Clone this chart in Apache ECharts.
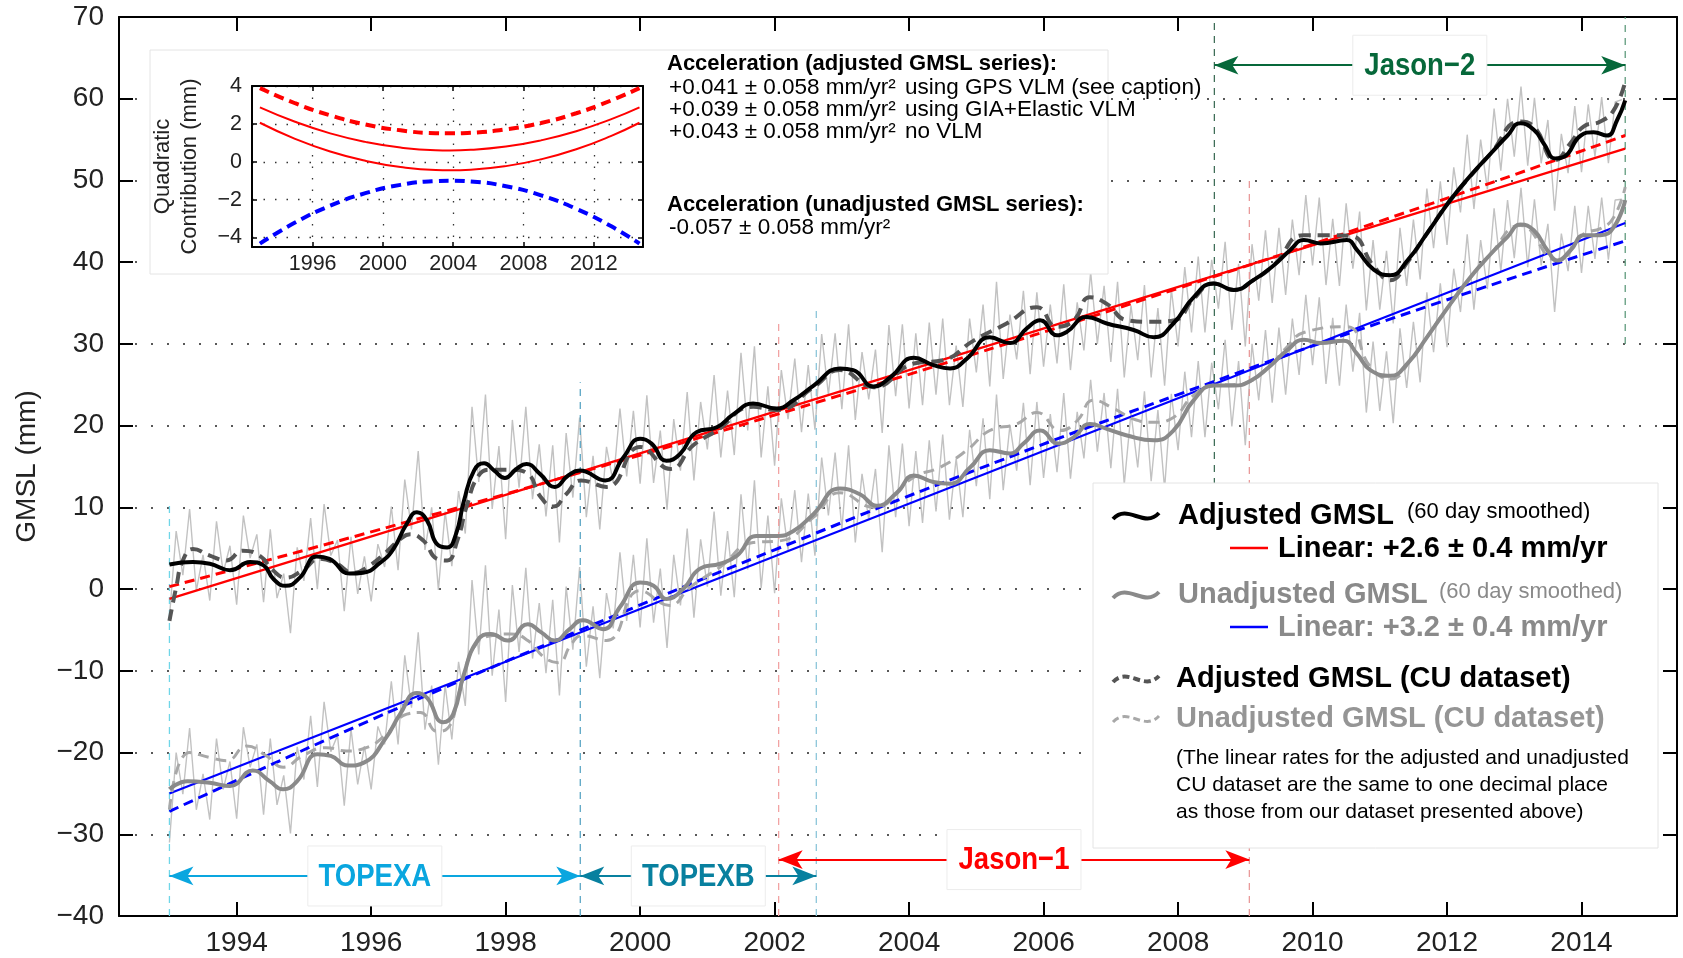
<!DOCTYPE html>
<html><head><meta charset="utf-8">
<script src="https://cdn.jsdelivr.net/npm/echarts@6/dist/echarts.min.js"></script>
<style>html,body{margin:0;padding:0;background:#fff}#c{width:1683px;height:958px}</style>
</head><body><div id="c"></div>
<script>
// ---------------- DATA ----------------
const xTicks = [1994, 1996, 1998, 2000, 2002, 2004, 2006, 2008, 2010, 2012, 2014];
const insetXTicks = [1996, 2000, 2004, 2008, 2012];
const insetYTicks = [-4, -2, 0, 2, 4];

// raw (~monthly) GMSL, sampled from 1993.0 every 0.1 yr
const noisyStart = 1993.0, noisyStep = 0.1;
const adjNoisy = [
 -3.5, 7.1, 1.7, 9.8, -0.2, 4.2, -1.4, 8.3, 2.0, 5.3,
 -1.9, 9.0, 3.8, 6.7, -1.6, 7.3, -1.1, 1.9, -5.4, 5.1,
 1.0, 8.7, 0.0, 10.4, 4.1, 6.0, -2.7, 6.4, -0.6, 4.0,
 -1.5, 5.5, 2.7, 10.1, 2.3, 13.4, 7.3, 16.9, 4.8, 10.0,
 -0.1, 9.5, 2.8, 12.0, 6.8, 22.3, 13.1, 23.8, 9.8, 17.5,
 6.1, 20.7, 12.4, 22.3, 11.0, 17.7, 8.9, 17.6, 5.7, 19.1,
 11.2, 21.0, 8.8, 16.3, 7.3, 17.4, 13.0, 22.1, 13.8, 21.8,
 12.9, 23.7, 13.0, 19.4, 9.7, 20.8, 14.5, 24.1, 13.3, 22.9,
 17.1, 26.2, 16.1, 24.3, 16.4, 28.9, 19.4, 29.7, 16.1, 24.8,
 15.1, 26.8, 20.8, 28.2, 19.2, 27.4, 19.5, 31.2, 23.8, 31.3,
 22.0, 32.4, 20.7, 29.0, 23.2, 29.3, 19.1, 32.3, 23.6, 32.4,
 22.1, 31.3, 22.5, 32.6, 23.8, 33.1, 22.5, 29.8, 22.3, 33.1,
 26.5, 34.8, 24.8, 37.6, 25.7, 33.6, 28.1, 36.5, 26.3, 36.3,
 27.2, 34.8, 27.6, 37.3, 26.8, 35.1, 29.2, 38.8, 30.0, 37.1,
 27.8, 37.6, 25.9, 34.7, 28.0, 37.2, 25.9, 34.4, 24.9, 36.7,
 29.7, 39.4, 31.4, 40.7, 31.4, 40.3, 34.3, 42.5, 31.7, 39.8,
 29.7, 42.2, 35.3, 43.9, 35.0, 44.2, 36.0, 45.2, 38.4, 48.2,
 39.6, 47.9, 37.2, 45.3, 37.1, 47.2, 39.2, 46.2, 34.1, 42.7,
 34.2, 41.4, 32.5, 44.2, 37.1, 45.2, 37.9, 49.0, 41.7, 49.9,
 42.1, 51.6, 46.1, 55.6, 46.5, 55.0, 48.9, 58.8, 51.2, 60.0,
 52.9, 61.5, 51.8, 60.1, 52.1, 57.4, 46.3, 55.7, 50.9, 59.1,
 51.0, 59.3, 52.9, 60.2, 52.1, 59.6, 59.9
];
const unadjNoisy = [
 -31.0, -20.0, -25.1, -17.0, -27.0, -22.6, -28.2, -18.3, -24.5, -21.1,
 -28.1, -16.9, -21.8, -19.0, -27.6, -18.3, -26.4, -22.8, -29.9, -19.3,
 -23.3, -15.5, -24.2, -13.8, -19.9, -17.9, -26.5, -17.1, -23.9, -19.2,
 -24.5, -16.8, -19.0, -11.3, -19.0, -8.1, -14.5, -5.3, -17.2, -11.8,
 -21.5, -11.7, -18.4, -8.9, -14.3, 1.1, -8.0, 2.9, -10.6, -2.5,
 -13.8, 0.5, -7.7, 2.6, -8.5, -1.7, -10.3, -1.3, -13.0, 0.3,
 -7.4, 2.7, -9.5, -2.1, -10.9, -0.5, -4.8, 4.5, -3.9, 4.2,
 -4.7, 6.2, -4.1, 2.5, -7.2, 4.2, -2.0, 7.4, -3.5, 6.1,
 0.3, 9.5, -0.8, 7.1, -1.0, 11.6, 2.4, 13.3, 0.1, 9.0,
 -0.5, 11.1, 4.8, 12.1, 3.3, 11.7, 4.1, 16.1, 9.0, 16.7,
 7.3, 17.6, 5.7, 14.1, 8.5, 14.7, 4.5, 17.6, 8.8, 17.8,
 7.7, 16.9, 8.1, 18.2, 9.5, 18.9, 8.5, 16.0, 8.8, 19.5,
 12.6, 20.9, 11.0, 23.8, 12.1, 20.1, 14.5, 22.8, 12.7, 22.9,
 13.6, 21.4, 14.3, 24.0, 13.5, 21.7, 16.0, 25.6, 16.8, 24.0,
 14.8, 24.5, 12.8, 21.6, 14.9, 24.2, 13.2, 21.9, 12.3, 23.9,
 17.0, 26.6, 18.6, 27.9, 18.6, 27.7, 22.0, 30.5, 19.9, 27.9,
 17.6, 30.0, 23.1, 31.7, 22.8, 32.0, 23.8, 33.1, 26.2, 36.0,
 27.4, 35.7, 25.1, 33.2, 24.9, 34.8, 26.6, 33.8, 21.6, 30.3,
 21.8, 29.1, 20.3, 31.9, 24.6, 32.7, 25.3, 36.3, 29.0, 37.4,
 29.6, 39.2, 33.9, 43.4, 34.2, 42.7, 36.7, 46.6, 38.9, 47.6,
 40.5, 49.1, 39.4, 47.7, 39.6, 44.7, 33.9, 43.5, 38.9, 46.9,
 38.7, 46.9, 40.4, 47.9, 40.3, 47.6, 47.7
];

// 60-day smoothed series [year, mm]
const adjSmooth = [[1993.0,3.0],[1993.35,3.3],[1993.6,3.1],[1993.9,2.3],[1994.2,3.3],[1994.4,2.9],[1994.55,1.2],[1994.73,0.4],[1994.94,1.4],[1995.19,4.0],[1995.38,3.7],[1995.68,1.9],[1995.88,2.0],[1996.13,3.2],[1996.33,4.9],[1996.53,8.0],[1996.68,9.4],[1996.83,8.4],[1996.98,5.5],[1997.13,5.1],[1997.26,6.7],[1997.38,10.8],[1997.53,14.5],[1997.68,15.4],[1997.83,14.5],[1997.99,13.6],[1998.16,14.7],[1998.31,15.3],[1998.51,14.1],[1998.73,12.5],[1998.93,13.9],[1999.1,14.5],[1999.48,13.3],[1999.75,16.1],[2000.0,18.4],[2000.17,17.8],[2000.39,15.7],[2000.59,16.5],[2000.84,19.2],[2001.14,19.8],[2001.39,21.4],[2001.68,22.7],[2002.03,22.1],[2002.28,23.1],[2002.58,24.9],[2002.97,27.0],[2003.17,26.8],[2003.47,24.8],[2003.72,25.9],[2004.07,28.3],[2004.36,27.4],[2004.61,27.0],[2004.86,28.2],[2005.2,30.8],[2005.5,30.1],[2005.75,31.9],[2005.95,32.9],[2006.2,31.05],[2006.35,31.5],[2006.64,33.3],[2006.94,32.5],[2007.34,31.7],[2007.64,30.8],[2007.93,32.5],[2008.23,35.7],[2008.53,37.4],[2008.83,36.6],[2009.12,37.8],[2009.42,39.6],[2009.67,41.5],[2009.87,42.7],[2010.12,42.3],[2010.51,42.7],[2010.66,41.5],[2010.91,39.1],[2011.16,38.4],[2011.41,40.2],[2011.7,43.5],[2012.05,47.6],[2012.35,50.6],[2012.65,53.3],[2012.9,55.5],[2013.09,57.0],[2013.29,56.2],[2013.44,54.5],[2013.61,52.7],[2013.74,52.9],[2013.99,55.5],[2014.18,55.9],[2014.38,55.5],[2014.53,57.4],[2014.65,59.8]];
const adjCU = [[1993.0,-3.9],[1993.1,0.2],[1993.2,3.5],[1993.35,4.9],[1993.6,4.1],[1993.85,3.5],[1994.09,4.7],[1994.34,4.1],[1994.54,2.3],[1994.73,1.4],[1994.98,2.3],[1995.23,3.7],[1995.47,3.2],[1995.73,2.0],[1995.98,2.9],[1996.22,4.5],[1996.43,6.1],[1996.58,6.7],[1996.78,5.9],[1996.98,3.7],[1997.13,3.5],[1997.28,5.9],[1997.43,10.4],[1997.6,13.9],[1997.78,14.6],[1998.08,14.6],[1998.33,14.1],[1998.51,11.4],[1998.71,10.1],[1998.9,11.6],[1999.12,13.3],[1999.5,12.5],[2000.0,17.4],[2000.45,14.7],[2000.79,17.6],[2001.14,19.4],[2001.68,22.3],[2002.03,21.9],[2002.58,24.7],[2002.97,26.8],[2003.47,24.7],[2004.07,27.6],[2004.5,28.0],[2004.96,30.4],[2005.45,32.5],[2005.9,34.5],[2006.2,32.1],[2006.45,32.9],[2006.69,35.7],[2006.94,34.9],[2007.24,32.9],[2007.64,32.7],[2007.95,32.9],[2008.23,35.5],[2008.53,37.4],[2008.83,36.6],[2009.12,37.8],[2009.42,39.6],[2009.87,43.3],[2010.2,43.3],[2010.57,43.2],[2010.91,39.5],[2011.16,37.8],[2011.41,40.0],[2011.7,43.5],[2012.05,47.6],[2012.65,53.3],[2013.09,57.2],[2013.3,56.5],[2013.61,52.5],[2013.84,54.6],[2014.03,56.6],[2014.28,57.2],[2014.48,58.6],[2014.65,62.1]];
const unadjSmooth = [[1993.0,-24.5],[1993.27,-23.5],[1993.6,-23.7],[1993.9,-24.1],[1994.24,-22.2],[1994.49,-23.5],[1994.69,-24.5],[1994.9,-23.5],[1995.2,-20.2],[1995.4,-20.4],[1995.65,-21.6],[1995.9,-21.2],[1996.22,-18.2],[1996.43,-15.3],[1996.68,-12.7],[1996.83,-13.3],[1997.07,-16.3],[1997.22,-15.3],[1997.38,-10.4],[1997.58,-6.3],[1997.78,-5.5],[1998.03,-6.3],[1998.33,-4.3],[1998.53,-5.3],[1998.73,-6.3],[1998.95,-4.9],[1999.15,-3.8],[1999.45,-4.9],[1999.7,-2.2],[2000.0,0.8],[2000.2,0.4],[2000.39,-1.2],[2000.64,0.0],[2000.89,2.5],[2001.19,3.1],[2001.44,4.1],[2001.73,6.5],[2002.03,6.5],[2002.28,7.1],[2002.58,9.2],[2002.97,12.3],[2003.27,11.6],[2003.52,10.2],[2003.82,11.8],[2004.07,13.9],[2004.36,13.1],[2004.61,12.9],[2004.91,14.9],[2005.2,17.0],[2005.5,16.6],[2005.7,17.8],[2005.95,19.4],[2006.22,17.8],[2006.45,18.6],[2006.69,20.2],[2006.94,19.6],[2007.24,18.8],[2007.64,18.2],[2007.93,19.4],[2008.23,23.1],[2008.53,24.9],[2008.83,24.9],[2009.08,25.5],[2009.37,27.3],[2009.62,29.2],[2009.87,30.5],[2010.12,30.1],[2010.46,30.4],[2010.66,28.8],[2010.86,26.8],[2011.16,26.1],[2011.41,27.6],[2011.7,30.8],[2012.05,34.9],[2012.35,38.2],[2012.65,41.0],[2012.9,43.1],[2013.09,44.6],[2013.29,43.9],[2013.49,41.5],[2013.64,40.2],[2013.84,41.5],[2014.04,43.3],[2014.28,43.3],[2014.48,44.3],[2014.65,47.6]];
const unadjCU = [[1993.0,-27.0],[1993.3,-20.0],[1993.6,-20.6],[1993.85,-21.0],[1994.15,-19.2],[1994.44,-20.4],[1994.69,-21.8],[1994.98,-20.4],[1995.33,-19.4],[1995.63,-19.8],[1995.93,-19.4],[1996.22,-17.8],[1996.53,-15.3],[1996.73,-15.1],[1996.98,-17.4],[1997.13,-17.1],[1997.33,-12.0],[1997.53,-7.1],[1997.78,-5.7],[1998.08,-5.5],[1998.33,-6.3],[1998.58,-8.4],[1998.78,-9.0],[1998.98,-6.7],[1999.13,-5.7],[1999.5,-6.3],[2000.0,-0.2],[2000.44,-2.0],[2000.74,0.2],[2001.19,2.7],[2001.68,5.7],[2002.08,5.9],[2002.58,8.8],[2002.97,11.8],[2003.47,10.0],[2004.07,13.7],[2004.46,14.9],[2004.86,17.0],[2005.2,19.4],[2005.6,20.2],[2005.9,21.6],[2006.25,19.4],[2006.5,20.6],[2006.74,23.1],[2007.04,22.1],[2007.34,20.8],[2007.64,20.4],[2007.93,21.0],[2008.23,23.7],[2008.53,24.9],[2008.93,25.1],[2009.32,27.0],[2009.62,29.6],[2009.87,31.4],[2010.5,32.1],[2010.86,27.2],[2011.16,25.7],[2011.46,28.0],[2011.7,30.8],[2012.05,34.9],[2012.65,41.0],[2013.09,44.5],[2013.64,40.2],[2014.04,43.5],[2014.28,44.1],[2014.48,45.5],[2014.65,49.2]];

// trend lines
const adjLinear = [[1993.0,-1.2],[2014.65,53.9]];
const adjCUFit = [[1993.0,0.3],[1996.0,7.0],[1999.0,14.0],[2002.0,21.3],[2005.0,28.85],[2008.0,36.8],[2011.0,45.0],[2014.65,55.5]];
const unadjLinear = [[1993.0,-25.0],[2014.65,44.8]];
const unadjCUFit = [[1993.0,-27.2],[1996.0,-16.0],[1999.0,-5.4],[2002.0,4.8],[2005.0,14.6],[2008.0,23.8],[2011.0,32.6],[2014.65,42.6]];

// inset: quadratic contributions
const insetYears = [1993, 1995, 1997, 1999, 2001, 2003, 2003.8, 2005, 2007, 2009, 2011, 2013, 2014.6];
const quadGPS   = [3.89, 3.09, 2.45, 1.97, 1.66, 1.51, 1.50, 1.53, 1.71, 2.05, 2.56, 3.24, 3.89];
const quadGIA   = [2.87, 2.11, 1.50, 1.05, 0.75, 0.61, 0.60, 0.63, 0.80, 1.13, 1.61, 2.25, 2.87];
const quadNoVLM = [2.06, 1.21, 0.54, 0.05, -0.28, -0.44, -0.45, -0.42, -0.23, 0.13, 0.66, 1.37, 2.06];
const quadUnadj = [-4.32, -3.21, -2.32, -1.66, -1.22, -1.02, -1.00, -1.04, -1.29, -1.77, -2.48, -3.41, -4.32];

// missions
const missionNames = ['TOPEXA', 'TOPEXB', 'Jason\u22121', 'Jason\u22122'];
const missionStart = [1993.0, 1999.11, 2002.06, 2008.54];
const missionEnd = [1999.11, 2002.62, 2009.06, 2014.65];
const missionY = [-35.1, -35.1, -33.1, 64.1];
const missionColors = ['#0aa6df', '#08809f', '#ff0000', '#06683a'];
const boundaryYears = [1993.0, 1999.11, 2002.06, 2002.62, 2008.54, 2009.06, 2014.65];
const boundaryFrom = [-40, -40, -40, -40, 0, -40, 30];
const boundaryTo = [10.8, 25.3, 32.5, 34.3, 70, 50, 70];
const boundaryColors = ['#6fd6e8', '#5aa5c4', '#f2a3a3', '#8cc6da', '#3f6e58', '#e99a9a', '#5f9a7d'];

// ---------------- CHART ----------------
const FONT = '"Liberation Sans", Arial, Helvetica, sans-serif';
const minus = v => String(v).replace('-', '\u2212');
const plain = v => String(v);

function ln(data, color, width, type, z, smooth, xi) {
  return { type: 'line', data, xAxisIndex: xi || 0, yAxisIndex: xi || 0, symbol: 'none', showSymbol: false,
    smooth: smooth || false, silent: true, z, lineStyle: { color, width, type: type || 'solid' } };
}

const series = [];
series.push(ln(unadjNoisy.map((v, i) => [noisyStart + i * noisyStep, v]), '#c2c2c2', 1.4, 'solid', 1));
series.push(ln(adjNoisy.map((v, i) => [noisyStart + i * noisyStep, v]), '#c2c2c2', 1.4, 'solid', 1));
boundaryYears.forEach((x, i) => {
  series.push(ln([[x, boundaryFrom[i]], [x, boundaryTo[i]]], boundaryColors[i], 1.3, [7, 6], 2));
});
series.push(ln(adjLinear, '#ff0000', 2.2, 'solid', 3));
series.push(ln(adjCUFit, '#ff0000', 3, [10, 6], 3, true));
series.push(ln(unadjLinear, '#0000ff', 2.2, 'solid', 3));
series.push(ln(unadjCUFit, '#0000ff', 3, [10, 6], 3, true));
series.push(ln(unadjCU, '#a8a8a8', 3, [11, 7], 4, 0.5));
series.push(ln(adjCU, '#555555', 4, [12, 7], 4, 0.5));
series.push(ln(unadjSmooth, '#8a8a8a', 4, 'solid', 5, 0.5));
series.push(ln(adjSmooth, '#000000', 4, 'solid', 6, 0.5));

missionNames.forEach((name, i) => {
  const c = missionColors[i];
  series.push({
    type: 'scatter', xAxisIndex: 0, yAxisIndex: 0, z: 8, silent: true,
    symbolSize: 1, itemStyle: { color: 'rgba(0,0,0,0)' },
    data: [[(missionStart[i] + missionEnd[i]) / 2, missionY[i]]],
    markLine: { silent: true, symbol: ['arrow', 'arrow'], symbolSize: [14, 24], label: { show: false },
      lineStyle: { color: c, width: 2, type: 'solid' },
      data: [[{ coord: [missionStart[i], missionY[i]] }, { coord: [missionEnd[i], missionY[i]] }]] }
  });
});

// inset curves
const ins = arr => insetYears.map((t, i) => [t, arr[i]]);
series.push(ln(ins(quadGPS), '#ff0000', 4, [10, 6], 130, true, 2));
series.push(ln(ins(quadGIA), '#ff0000', 2, 'solid', 130, true, 2));
series.push(ln(ins(quadNoVLM), '#ff0000', 2, 'solid', 130, true, 2));
series.push(ln(ins(quadUnadj), '#0000ff', 4, [10, 6], 130, true, 2));

const axLine = { onZero: false, lineStyle: { color: '#000', width: 2 } };
const xMain = { min: 1992.25, max: 2015.42 };
const xAxis = [
  { gridIndex: 0, type: 'value', ...xMain, position: 'bottom', axisLine: axLine,
    axisTick: { inside: true, length: 14, customValues: xTicks, lineStyle: { color: '#000', width: 2 } },
    axisLabel: { customValues: xTicks, formatter: plain, fontSize: 28, color: '#222', margin: 13, fontFamily: FONT }, splitLine: { show: false } },
  { gridIndex: 0, type: 'value', ...xMain, position: 'top', axisLine: axLine,
    axisTick: { inside: true, length: 14, customValues: xTicks, lineStyle: { color: '#000', width: 2 } },
    axisLabel: { show: false }, splitLine: { show: false } },
  { gridIndex: 1, type: 'value', min: 1992.55, max: 2014.8, position: 'bottom', z: 120, axisLine: axLine,
    axisTick: { inside: true, length: 5, customValues: insetXTicks, lineStyle: { color: '#000', width: 1.5 } },
    axisLabel: { customValues: insetXTicks, formatter: plain, fontSize: 21.5, color: '#222', margin: 6, fontFamily: FONT },
    splitLine: { show: true, lineStyle: { color: '#333', width: 1.3, type: [1.5, 10] } } },
  { gridIndex: 1, type: 'value', min: 1992.55, max: 2014.8, position: 'top', z: 120, axisLine: axLine,
    axisTick: { inside: true, length: 5, customValues: insetXTicks, lineStyle: { color: '#000', width: 1.5 } },
    axisLabel: { show: false }, splitLine: { show: false } }
];
const yAxis = [
  { gridIndex: 0, type: 'value', min: -40, max: 70, interval: 10, position: 'left', axisLine: axLine,
    axisTick: { inside: true, length: 14, lineStyle: { color: '#000', width: 2 } },
    axisLabel: { fontSize: 28, color: '#222', margin: 15, fontFamily: FONT, formatter: minus },
    splitLine: { show: true, lineStyle: { color: '#222', width: 1.5, type: [2, 14] } },
    name: 'GMSL (mm)', nameLocation: 'middle', nameGap: 78, nameTextStyle: { fontSize: 28, color: '#222', fontFamily: FONT } },
  { gridIndex: 0, type: 'value', min: -40, max: 70, interval: 10, position: 'right', axisLine: axLine,
    axisTick: { inside: true, length: 14, lineStyle: { color: '#000', width: 2 } },
    axisLabel: { show: false }, splitLine: { show: false } },
  { gridIndex: 1, type: 'value', min: -4.5, max: 4, position: 'left', z: 120, axisLine: axLine,
    axisTick: { inside: true, length: 5, customValues: insetYTicks, lineStyle: { color: '#000', width: 1.5 } },
    axisLabel: { customValues: insetYTicks, fontSize: 21.5, color: '#222', margin: 10, fontFamily: FONT, formatter: minus },
    splitLine: { show: true, lineStyle: { color: '#333', width: 1.3, type: [1.5, 10] } },
    name: 'Quadratic\nContribution (mm)', nameLocation: 'middle', nameGap: 49,
    nameTextStyle: { fontSize: 22, lineHeight: 27, color: '#222', fontFamily: FONT } },
  { gridIndex: 1, type: 'value', min: -4.5, max: 4, position: 'right', z: 120, axisLine: axLine,
    axisTick: { inside: true, length: 5, customValues: insetYTicks, lineStyle: { color: '#000', width: 1.5 } },
    axisLabel: { show: false }, splitLine: { show: false } }
];

// graphic: inset box, text, legend
function txt(x, y, text, size, bold, color) {
  return { type: 'text', x, y, z: 110, silent: true,
    style: { text, fontFamily: FONT, fontSize: size, fontWeight: bold ? 'bold' : 'normal', fill: color || '#000', verticalAlign: 'middle', align: 'left' } };
}
function wave(cx, cy, color, dash, w) {
  return { type: 'bezierCurve', z: 110, silent: true,
    shape: { x1: cx - 23, y1: cy + 3, cpx1: cx - 8, cpy1: cy - 13, cpx2: cx + 8, cpy2: cy + 13, x2: cx + 23, y2: cy - 3 },
    style: { stroke: color, lineWidth: w || 4, fill: null, lineDash: dash || null } };
}
function seg(x1, x2, y, color) {
  return { type: 'line', z: 110, silent: true, shape: { x1, y1: y, x2, y2: y }, style: { stroke: color, lineWidth: 2.5 } };
}
const graphic = [
  { type: 'rect', z: 100, silent: true, shape: { x: 150, y: 50, width: 958, height: 224 }, style: { fill: '#fff', stroke: '#e4e4e4', lineWidth: 1 } },
  txt(667, 64, 'Acceleration (adjusted GMSL series):', 22, true),
  txt(669, 88, '+0.041 \u00b1 0.058 mm/yr\u00b2', 22.5), txt(905, 88, 'using GPS VLM (see caption)', 22.5),
  txt(669, 110, '+0.039 \u00b1 0.058 mm/yr\u00b2', 22.5), txt(905, 110, 'using GIA+Elastic VLM', 22.5),
  txt(669, 132, '+0.043 \u00b1 0.058 mm/yr\u00b2', 22.5), txt(905, 132, 'no VLM', 22.5),
  txt(667, 205, 'Acceleration (unadjusted GMSL series):', 22, true),
  txt(669, 228, '-0.057 \u00b1 0.058 mm/yr\u00b2', 22.5),

  { type: 'rect', z: 100, silent: true, shape: { x: 1093, y: 483, width: 565, height: 365 }, style: { fill: '#fff', stroke: '#e4e4e4', lineWidth: 1 } },
  wave(1136, 516, '#000'),
  txt(1178, 516, 'Adjusted GMSL', 29, true),
  txt(1407, 512, '(60 day smoothed)', 22),
  seg(1230, 1268, 548, '#ff0000'),
  txt(1278, 549, 'Linear: +2.6 \u00b1 0.4 mm/yr', 29, true),
  wave(1136, 595, '#8a8a8a'),
  txt(1178, 595, 'Unadjusted GMSL', 29, true, '#8a8a8a'),
  txt(1439, 592, '(60 day smoothed)', 22, false, '#8a8a8a'),
  seg(1230, 1268, 627, '#0000ff'),
  txt(1278, 628, 'Linear: +3.2 \u00b1 0.4 mm/yr', 29, true, '#8a8a8a'),
  wave(1136, 679, '#555', [7, 4]),
  txt(1176, 679, 'Adjusted GMSL (CU dataset)', 29, true),
  wave(1136, 719, '#a8a8a8', [7, 4], 3),
  txt(1176, 719, 'Unadjusted GMSL (CU dataset)', 29, true, '#959595'),
  txt(1176, 758, '(The linear rates for the adjusted and unadjusted', 21),
  txt(1176, 785, 'CU dataset are the same to one decimal place', 21),
  txt(1176, 812, 'as those from our dataset presented above)', 21)
];

const chart = echarts.init(document.getElementById('c'), null, { renderer: 'canvas' });
const baseOption = {
  animation: false,
  backgroundColor: '#fff',
  textStyle: { fontFamily: FONT },
  grid: [
    { left: 119, right: 6, top: 17, bottom: 42 },
    { left: 252, top: 86, width: 391, height: 161, z: 120 }
  ],
  xAxis, yAxis, series, graphic
};
chart.setOption(baseOption);

// mission name boxes, centred on each arrow (positions through the chart's own scales)
const missionLabels = missionNames.map((name, i) => {
  const p = chart.convertToPixel({ gridIndex: 0 }, [(missionStart[i] + missionEnd[i]) / 2, missionY[i]]);
  return { type: 'group', x: p[0], y: p[1], z: 50, silent: true, children: [
    { type: 'rect', z: 50, shape: { x: -67, y: -30, width: 134, height: 60 }, style: { fill: '#fff', stroke: '#ececec', lineWidth: 1 } },
    { type: 'text', z: 51, x: 0, y: 1, scaleX: 0.86,
      style: { text: name, fontFamily: FONT, fontSize: 32, fontWeight: 'bold', fill: missionColors[i], align: 'center', verticalAlign: 'middle' } }
  ] };
});
chart.setOption({ graphic: graphic.concat(missionLabels) });
</script></body></html>
